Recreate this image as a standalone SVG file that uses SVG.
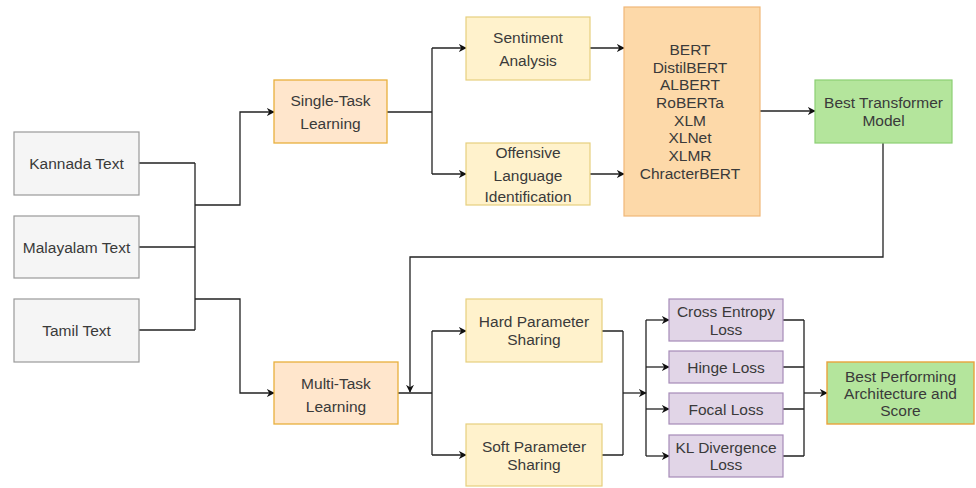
<svg xmlns="http://www.w3.org/2000/svg" width="976" height="488" viewBox="0 0 976 488">
  <style>
    text { font-family: "Liberation Sans", Arial, sans-serif; font-size: 15.5px; fill: #3a3a3a; text-anchor: middle; }
    .src rect { fill: #f5f5f5; stroke: #999999; stroke-width: 1.2; }
    .learn rect { fill: #ffe6cc; stroke: #e8b03c; stroke-width: 1.3; }
    .task rect { fill: #fff2cc; stroke: #e6cf7e; stroke-width: 1.2; }
    .models rect { fill: #fdd9a9; stroke: #f0b779; stroke-width: 1.2; }
    .best rect { fill: #b4e59c; stroke: #8ccf73; stroke-width: 1.2; }
    .final rect { fill: #b4e59c; stroke: #e8a33c; stroke-width: 1.4; }
    .loss rect { fill: #e1d5e7; stroke: #a68bb8; stroke-width: 1.2; }
    .wire { fill: none; stroke: #222222; stroke-width: 1.3; }
    .arr { marker-end: url(#head); }
  </style>
  <defs>
    <marker id="head" viewBox="0 0 10 10" refX="9" refY="5" markerWidth="8" markerHeight="8" markerUnits="userSpaceOnUse" orient="auto">
      <path d="M0,0 L10,5 L0,10 L3,5 Z" fill="#111111"/>
    </marker>
  </defs>

  <rect width="976" height="488" fill="#ffffff"/>

  <g id="connectors">
    <!-- inputs merge -->
    <path class="wire" d="M139,163 H195 M139,247 H195 M139,330 H195 M195,163 V330"/>
    <path class="wire arr" d="M195,205 H240 V112 H274"/>
    <path class="wire arr" d="M195,299 H240 V393 H274"/>
    <!-- single-task branch -->
    <path class="wire" d="M387,112 H432 M432,48 V174"/>
    <path class="wire arr" d="M432,48 H466"/>
    <path class="wire arr" d="M432,174 H466"/>
    <path class="wire arr" d="M590,48 H624"/>
    <path class="wire arr" d="M590,174 H624"/>
    <path class="wire arr" d="M760,111 H815"/>
    <!-- feedback to multi-task -->
    <path class="wire arr" d="M883,143 V257 H410 V392"/>
    <!-- multi-task branch -->
    <path class="wire" d="M398,393 H432 M432,331 V455"/>
    <path class="wire arr" d="M432,331 H466"/>
    <path class="wire arr" d="M432,455 H466"/>
    <path class="wire" d="M602,331 H623 M602,455 H623 M623,331 V455"/>
    <path class="wire arr" d="M623,393 H646"/>
    <path class="wire" d="M646,320 V456"/>
    <path class="wire arr" d="M646,320 H669"/>
    <path class="wire arr" d="M646,367 H669"/>
    <path class="wire arr" d="M646,409 H669"/>
    <path class="wire arr" d="M646,456 H669"/>
    <path class="wire" d="M783,320 H804 M783,367 H804 M783,409 H804 M783,456 H804 M804,320 V456"/>
    <path class="wire arr" d="M804,393 H827"/>
  </g>

  <g id="kannada" class="src">
    <rect x="14" y="132" width="125" height="63"/>
    <text x="76.5" y="168.5">Kannada Text</text>
  </g>
  <g id="malayalam" class="src">
    <rect x="14" y="216" width="125" height="62"/>
    <text x="76.5" y="252.5">Malayalam Text</text>
  </g>
  <g id="tamil" class="src">
    <rect x="14" y="299" width="125" height="63"/>
    <text x="76.5" y="336">Tamil Text</text>
  </g>

  <g id="single-task" class="learn">
    <rect x="274" y="80" width="113" height="63"/>
    <text x="330.5" y="105.5">Single-Task</text>
    <text x="330.5" y="128.5">Learning</text>
  </g>
  <g id="multi-task" class="learn">
    <rect x="274" y="362" width="124" height="62"/>
    <text x="336" y="388.5">Multi-Task</text>
    <text x="336" y="411.5">Learning</text>
  </g>

  <g id="sentiment" class="task">
    <rect x="466" y="17" width="124" height="63"/>
    <text x="528" y="43">Sentiment</text>
    <text x="528" y="66">Analysis</text>
  </g>
  <g id="offensive" class="task">
    <rect x="466" y="143" width="124" height="62"/>
    <text x="528" y="157.5">Offensive</text>
    <text x="528" y="180.5">Language</text>
    <text x="528" y="202">Identification</text>
  </g>

  <g id="models" class="models">
    <rect x="624" y="7" width="136" height="209"/>
    <text x="690" y="54.5">BERT</text>
    <text x="690" y="72.5">DistilBERT</text>
    <text x="690" y="90">ALBERT</text>
    <text x="690" y="108">RoBERTa</text>
    <text x="690" y="125.5">XLM</text>
    <text x="690" y="143">XLNet</text>
    <text x="690" y="160.5">XLMR</text>
    <text x="690" y="178.5">ChracterBERT</text>
  </g>

  <g id="best-transformer" class="best">
    <rect x="815" y="80" width="137" height="63"/>
    <text x="883.5" y="107.5">Best Transformer</text>
    <text x="883.5" y="125.5">Model</text>
  </g>

  <g id="hard-sharing" class="task">
    <rect x="466" y="299" width="136" height="63"/>
    <text x="534" y="327">Hard Parameter</text>
    <text x="534" y="345">Sharing</text>
  </g>
  <g id="soft-sharing" class="task">
    <rect x="466" y="424" width="136" height="62"/>
    <text x="534" y="452">Soft Parameter</text>
    <text x="534" y="470">Sharing</text>
  </g>

  <g id="cross-entropy" class="loss">
    <rect x="669" y="299" width="114" height="42"/>
    <text x="726" y="317">Cross Entropy</text>
    <text x="726" y="334.5">Loss</text>
  </g>
  <g id="hinge" class="loss">
    <rect x="669" y="351" width="114" height="32"/>
    <text x="726" y="372.5">Hinge Loss</text>
  </g>
  <g id="focal" class="loss">
    <rect x="669" y="393" width="114" height="31"/>
    <text x="726" y="414.5">Focal Loss</text>
  </g>
  <g id="kl-divergence" class="loss">
    <rect x="669" y="435" width="114" height="42"/>
    <text x="726" y="452.5">KL Divergence</text>
    <text x="726" y="470">Loss</text>
  </g>

  <g id="best-performing" class="final">
    <rect x="827" y="362" width="147" height="62"/>
    <text x="900.5" y="381.5">Best Performing</text>
    <text x="900.5" y="398.5">Architecture and</text>
    <text x="900.5" y="415.5">Score</text>
  </g>
</svg>
